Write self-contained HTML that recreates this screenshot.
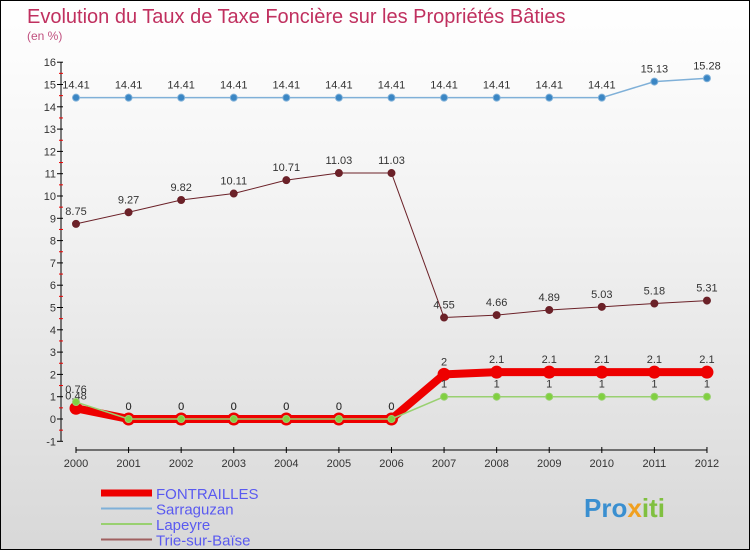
<!DOCTYPE html>
<html><head><meta charset="utf-8"><style>
body{margin:0}
#c{width:750px;height:550px;position:relative;overflow:hidden;box-sizing:border-box;border:1px solid #000;background:linear-gradient(#fff,#f2f2f2 40%,#d8d8d8);font-family:"Liberation Sans",sans-serif}
text{font-family:"Liberation Sans",sans-serif}
</style></head><body>
<div id="c">
<svg id="s" width="750" height="550">
<text x="26" y="22" font-size="20" fill="#c0305f">Evolution du Taux de Taxe Foncière sur les Propriétés Bâties</text>
<text x="26" y="39" font-size="12" fill="#c0507f">(en %)</text>
<g id="ax"></g><g id="ser"></g><g id="leg"></g>
<text x="583" y="516" font-size="26" font-weight="bold" fill="#3a8fd0">Pro<tspan fill="#f0a020">x</tspan><tspan fill="#80c040">iti</tspan></text>
</svg></div>
<script>
const years=[2000,2001,2002,2003,2004,2005,2006,2007,2008,2009,2010,2011,2012];
const yTicks=[-1,0,1,2,3,4,5,6,7,8,9,10,11,12,13,14,15,16];
const fontrailles=[0.48,0,0,0,0,0,0,2,2.1,2.1,2.1,2.1,2.1];
const sarraguzan=[14.41,14.41,14.41,14.41,14.41,14.41,14.41,14.41,14.41,14.41,14.41,15.13,15.28];
const lapeyre=[0.76,0,0,0,0,0,0,1,1,1,1,1,1];
const trie=[8.75,9.27,9.82,10.11,10.71,11.03,11.03,4.55,4.66,4.89,5.03,5.18,5.31];
const seriesNames=["FONTRAILLES","Sarraguzan","Lapeyre","Trie-sur-Baïse"];
const NS="http://www.w3.org/2000/svg";
const X=i=>75+i*52.58, Y=v=>418-v*22.3;
function mk(p,t,a){const e=document.createElementNS(NS,t);for(const k in a)e.setAttribute(k,a[k]);p.appendChild(e);return e;}
const ax=document.getElementById('ax'),ser=document.getElementById('ser'),leg=document.getElementById('leg');
let l=mk(ax,'line',{x1:60,y1:Y(16),x2:60,y2:Y(-1),stroke:'#000'});


l=mk(ax,'line',{x1:X(0),y1:449,x2:X(12),y2:449,stroke:'#000'});


yTicks.forEach(v=>{
 mk(ax,'line',{x1:56,y1:Y(v),x2:62,y2:Y(v),stroke:'#000'});
 if(v<16)mk(ax,'line',{x1:58,y1:Y(v+0.5),x2:62,y2:Y(v+0.5),stroke:'#e00'});
 const t=mk(ax,'text',{x:55,y:Y(v)+4,'text-anchor':'end','font-size':11,fill:'#333'});t.textContent=v;
 
 
});
years.forEach((y,i)=>{
 mk(ax,'line',{x1:X(i),y1:446,x2:X(i),y2:452,stroke:'#000'});
 const t=mk(ax,'text',{x:X(i),y:466,'text-anchor':'middle','font-size':11,fill:'#333'});t.textContent=y;
 
 
});
function draw(vals,color,w,r,dot,name,labels){
 const g=mk(ser,'g',{});
 
 
 mk(g,'polyline',{points:vals.map((v,i)=>X(i)+','+Y(v)).join(' '),fill:'none',stroke:color,'stroke-width':w,'stroke-linejoin':'round'});
 vals.forEach((v,i)=>{
  const c=mk(g,'circle',{cx:X(i),cy:Y(v),r:r,fill:dot,stroke:color,'stroke-width':1});
  
  
  if(labels){const t=mk(g,'text',{x:X(i),y:Y(v)-9,'text-anchor':'middle','font-size':11,fill:'#333'});t.textContent=v;}
 });
}
draw(trie,'#6b2128',1,3.5,'#6b2128','series-trie-sur-baise',true);
draw(sarraguzan,'#7fb0d8',1.5,3.5,'#3a86c4','series-sarraguzan',true);
draw(fontrailles,'#ee0000',8,6,'#ee0000','series-fontrailles',true);
draw(lapeyre,'#99d070',1.5,3.5,'#80d040','series-lapeyre',true);
const lc=['#ee0000','#7fb0d8','#99d070','#a06060'],lw=[7,2,2,2];
seriesNames.forEach((n,i)=>{
 const y=492+i*15.5;
 const g=mk(leg,'g',{});
 
 
 mk(g,'line',{x1:100,y1:y,x2:151,y2:y,stroke:lc[i],'stroke-width':lw[i]});
 const t=mk(g,'text',{x:155,y:y+6,'font-size':15,fill:'#5a5af0'});t.textContent=n;
});
</script>
</body></html>
